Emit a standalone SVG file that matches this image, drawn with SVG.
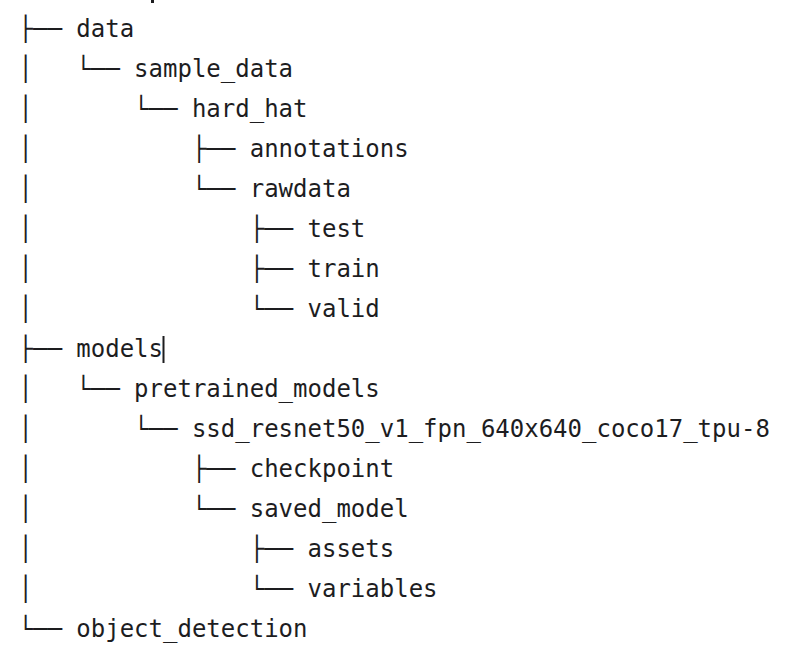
<svg xmlns="http://www.w3.org/2000/svg" width="810" height="656" viewBox="0 0 810 656">
<style>
text{font-family:"DejaVu Sans Mono","Liberation Mono",monospace;font-size:24px;fill:#1d1d1f;}
</style>
<rect width="810" height="656" fill="#ffffff"/>
<rect x="151" y="0" width="3" height="3" fill="#1d1d1f"/>
<g id="connectors">
<text x="18.5" y="37">├──</text>
<text x="18.5" y="77">│</text><text x="76.3" y="77">└──</text>
<text x="18.5" y="117">│</text><text x="134.1" y="117">└──</text>
<text x="18.5" y="157">│</text><text x="191.9" y="157">├──</text>
<text x="18.5" y="197">│</text><text x="191.9" y="197">└──</text>
<text x="18.5" y="237">│</text><text x="249.7" y="237">├──</text>
<text x="18.5" y="277">│</text><text x="249.7" y="277">├──</text>
<text x="18.5" y="317">│</text><text x="249.7" y="317">└──</text>
<text x="18.5" y="357">├──</text>
<text x="18.5" y="397">│</text><text x="76.3" y="397">└──</text>
<text x="18.5" y="437">│</text><text x="134.1" y="437">└──</text>
<text x="18.5" y="477">│</text><text x="191.9" y="477">├──</text>
<text x="18.5" y="517">│</text><text x="191.9" y="517">└──</text>
<text x="18.5" y="557">│</text><text x="249.7" y="557">├──</text>
<text x="18.5" y="597">│</text><text x="249.7" y="597">└──</text>
<text x="18.5" y="637">└──</text>
</g>
<g id="n-data"><text x="76.3" y="37">data</text></g>
<g id="n-sample_data"><text x="134.1" y="77">sample_data</text></g>
<g id="n-hard_hat"><text x="191.9" y="117">hard_hat</text></g>
<g id="n-annotations"><text x="249.7" y="157">annotations</text></g>
<g id="n-rawdata"><text x="249.7" y="197">rawdata</text></g>
<g id="n-test"><text x="307.5" y="237">test</text></g>
<g id="n-train"><text x="307.5" y="277">train</text></g>
<g id="n-valid"><text x="307.5" y="317">valid</text></g>
<g id="n-models"><text x="76.3" y="357">models</text><rect x="162.5" y="336" width="2" height="27" fill="#1d1d1f"/></g>
<g id="n-pretrained_models"><text x="134.1" y="397">pretrained_models</text></g>
<g id="n-ssd"><text x="191.9" y="437">ssd_resnet50_v1_fpn_640x640_coco17_tpu-8</text></g>
<g id="n-checkpoint"><text x="249.7" y="477">checkpoint</text></g>
<g id="n-saved_model"><text x="249.7" y="517">saved_model</text></g>
<g id="n-assets"><text x="307.5" y="557">assets</text></g>
<g id="n-variables"><text x="307.5" y="597">variables</text></g>
<g id="n-object_detection"><text x="76.3" y="637">object_detection</text></g>
</svg>
